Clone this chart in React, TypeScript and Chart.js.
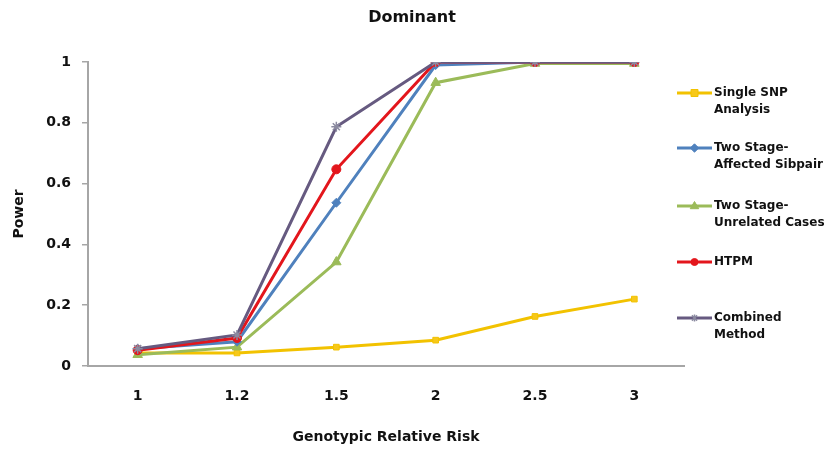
import React, { useEffect, useRef } from "react";
import { Chart, registerables } from "chart.js";

Chart.register(...registerables);

const categories = ["1", "1.2", "1.5", "2", "2.5", "3"];
const singleSnp = [0.043, 0.043, 0.062, 0.085, 0.163, 0.22];
const affectedSibpair = [0.057, 0.08, 0.537, 0.99, 1.0, 1.0];
const unrelatedCases = [0.037, 0.062, 0.342, 0.932, 0.995, 0.995];
const htpm = [0.052, 0.092, 0.647, 1.0, 1.0, 1.0];
const combined = [0.057, 0.102, 0.787, 1.0, 1.0, 1.0];
const yTicks = [0, 0.2, 0.4, 0.6, 0.8, 1];
const chartTitle = "Dominant";
const xTitle = "Genotypic Relative Risk";
const yTitle = "Power";

const FONT = "'DejaVu Sans', sans-serif";

function drawMarker(ctx: CanvasRenderingContext2D, style: string, x: number, y: number, r: number, fill: string, stroke: string) {
  ctx.save();
  ctx.fillStyle = fill;
  ctx.strokeStyle = stroke;
  ctx.lineWidth = 1;
  ctx.beginPath();
  if (style === "rect") {
    ctx.rect(x - r, y - r, 2 * r, 2 * r);
    ctx.fill();
    ctx.stroke();
  } else if (style === "rectRot") {
    ctx.moveTo(x, y - r * 1.2);
    ctx.lineTo(x + r * 1.2, y);
    ctx.lineTo(x, y + r * 1.2);
    ctx.lineTo(x - r * 1.2, y);
    ctx.closePath();
    ctx.fill();
    ctx.stroke();
  } else if (style === "triangle") {
    ctx.moveTo(x, y - r);
    ctx.lineTo(x + r * 0.95, y + r * 0.6);
    ctx.lineTo(x - r * 0.95, y + r * 0.6);
    ctx.closePath();
    ctx.fill();
    ctx.stroke();
  } else if (style === "circle") {
    ctx.arc(x, y, r, 0, Math.PI * 2);
    ctx.fill();
    ctx.stroke();
  } else if (style === "star") {
    ctx.lineWidth = 1.5;
    ctx.moveTo(x, y - r);
    ctx.lineTo(x, y + r);
    const d = r * 0.75;
    ctx.moveTo(x - d, y - d);
    ctx.lineTo(x + d, y + d);
    ctx.moveTo(x + d, y - d);
    ctx.lineTo(x - d, y + d);
    ctx.stroke();
  }
  ctx.restore();
}

export default function App() {
  const ref = useRef<HTMLCanvasElement>(null);
  useEffect(() => {
    document.body.style.margin = "0";
    const series = [
      { label: "Single SNP Analysis", lines: ["Single SNP", "Analysis"], data: singleSnp, color: "#F2C200", fill: "#F7C81A", style: "rect", radius: 4, order: 5 },
      { label: "Two Stage-Affected Sibpair", lines: ["Two Stage-", "Affected Sibpair"], data: affectedSibpair, color: "#4F81BD", fill: "#4F81BD", style: "rectRot", radius: 4.5, order: 3 },
      { label: "Two Stage-Unrelated Cases", lines: ["Two Stage-", "Unrelated Cases"], data: unrelatedCases, color: "#9BBB59", fill: "#9BBB59", style: "triangle", radius: 5.5, order: 4 },
      { label: "HTPM", lines: ["HTPM"], data: htpm, color: "#E3161C", fill: "#E3161C", style: "circle", radius: 4.5, order: 1 },
      { label: "Combined Method", lines: ["Combined", "Method"], data: combined, color: "#665A80", fill: "#8B8AA0", style: "star", radius: 5, order: 0 },
    ];
    const legendYs = [93, 148, 206, 262, 318];

    const decorPlugin = {
      id: "decor",
      afterDraw(chart: any) {
        const ctx = chart.ctx as CanvasRenderingContext2D;
        ctx.save();
        // title
        ctx.fillStyle = "#111";
        ctx.font = `bold 16px ${FONT}`;
        ctx.textAlign = "center";
        ctx.textBaseline = "middle";
        ctx.fillText(chartTitle, 412, 18);
        // legend
        series.forEach((s, i) => {
          const y = legendYs[i];
          ctx.strokeStyle = s.color;
          ctx.lineWidth = 3;
          ctx.beginPath();
          ctx.moveTo(677, y);
          ctx.lineTo(712, y);
          ctx.stroke();
          drawMarker(ctx, s.style, 694.5, y, s.style === "triangle" ? 4.5 : 3.5, s.fill, s.style === "star" ? "#8B8AA0" : s.color);
          ctx.fillStyle = "#111";
          ctx.font = `bold 12px ${FONT}`;
          ctx.textBaseline = "middle";
          ctx.textAlign = "left";
          s.lines.forEach((t, j) => ctx.fillText(t, 714, y + j * 17));
        });
        ctx.restore();
      },
    };

    const chart = new Chart(ref.current as HTMLCanvasElement, {
      type: "line",
      data: {
        labels: categories,
        datasets: series.map((s) => ({
          label: s.label,
          data: s.data,
          borderColor: s.color,
          backgroundColor: s.fill,
          pointBorderColor: s.style === "star" ? "#8B8AA0" : s.color,
          pointBackgroundColor: s.fill,
          pointStyle: s.style as any,
          pointRadius: s.radius,
          pointBorderWidth: s.style === "star" ? 1.5 : 1,
          borderWidth: 3,
          tension: 0,
          order: s.order,
        })),
      },
      options: {
        animation: false,
        responsive: false,
        maintainAspectRatio: false,
        layout: { padding: { left: 0, right: 143, top: 62, bottom: 0 } },
        plugins: {
          legend: { display: false },
          tooltip: { enabled: false },
          title: { display: false },
        },
        scales: {
          x: {
            type: "category",
            offset: true,
            grid: { display: false, drawTicks: false },
            border: { display: true, color: "#A6A6A6", width: 2 },
            ticks: { color: "#111", font: { family: FONT, size: 14, weight: "bold" }, padding: 22 },
            title: {
              display: true,
              text: xTitle,
              color: "#111",
              font: { family: FONT, size: 14, weight: "bold" },
              padding: { top: 14, bottom: 6 },
            },
            afterFit(scale: any) {
              scale.height = 86;
            },
          },
          y: {
            min: 0,
            max: 1,
            afterBuildTicks(scale: any) {
              scale.ticks = yTicks.map((v) => ({ value: v }));
            },
            grid: { drawOnChartArea: false, drawTicks: true, tickLength: 6, color: "#A6A6A6", lineWidth: 1.5 },
            border: { display: true, color: "#A6A6A6", width: 2 },
            ticks: {
              color: "#111",
              font: { family: FONT, size: 14, weight: "bold" },
              padding: 11,
              callback: (v: any) => String(Math.round(Number(v) * 10) / 10),
            },
            title: {
              display: true,
              text: yTitle,
              color: "#111",
              font: { family: FONT, size: 14, weight: "bold" },
              padding: { top: 11, bottom: 0 },
            },
            afterFit(scale: any) {
              scale.width = 88;
            },
          },
        },
      },
      plugins: [decorPlugin],
    });
    return () => chart.destroy();
  }, []);
  return (
    <div style={{ width: 827, height: 452, background: "#fff" }}>
      <canvas ref={ref} width={827} height={452} style={{ display: "block" }} />
    </div>
  );
}
